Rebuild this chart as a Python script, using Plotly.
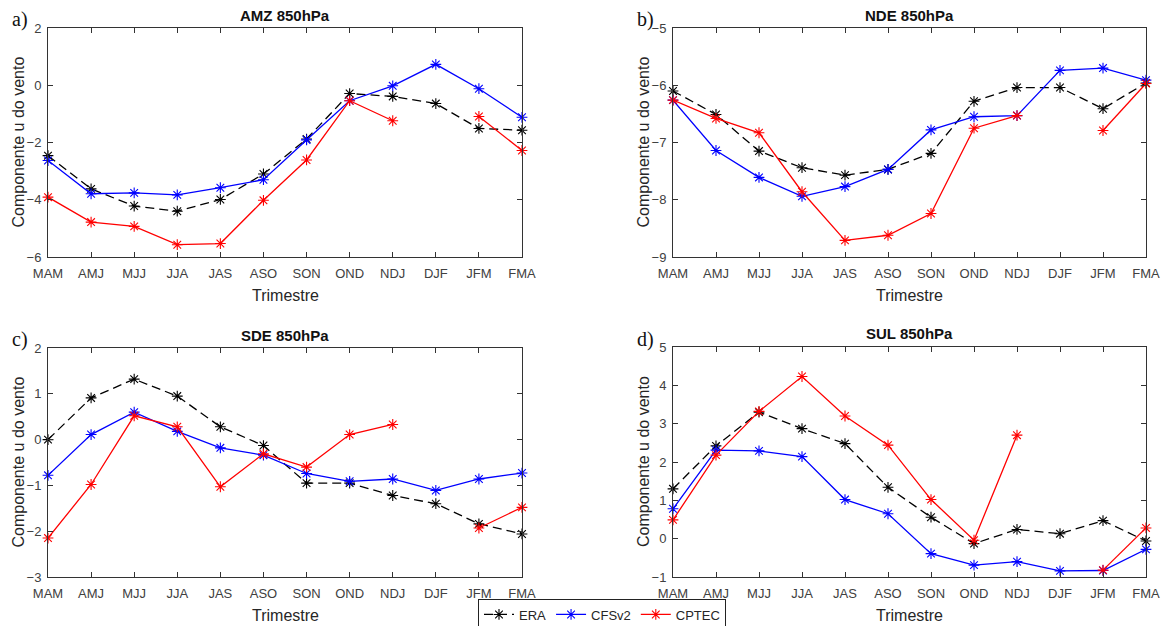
import plotly.graph_objects as go

months = ["MAM", "AMJ", "MJJ", "JJA", "JAS", "ASO", "SON", "OND", "NDJ", "DJF", "JFM", "FMA"]

# Panel a) AMZ 850hPa
amz_era = [-2.46, -3.62, -4.22, -4.40, -3.99, -3.10, -1.88, -0.29, -0.39, -0.64, -1.51, -1.57]
amz_cfs = [-2.63, -3.79, -3.76, -3.83, -3.58, -3.30, -1.91, -0.54, -0.02, 0.73, -0.12, -1.12]
amz_cptec = [-3.91, -4.78, -4.93, -5.57, -5.53, -4.02, -2.61, -0.54, -1.24, None, -1.09, -2.28]

# Panel b) NDE 850hPa
nde_era = [-6.10, -6.51, -7.15, -7.44, -7.57, -7.47, -7.19, -6.28, -6.04, -6.04, -6.41, -5.96]
nde_cfs = [-6.26, -7.14, -7.61, -7.94, -7.77, -7.47, -6.78, -6.55, -6.53, -5.74, -5.70, -5.91]
nde_cptec = [-6.26, -6.58, -6.83, -7.86, -8.71, -8.62, -8.24, -6.75, -6.53, None, -6.79, -5.97]

# Panel c) SDE 850hPa
sde_era = [0.0, 0.91, 1.32, 0.95, 0.28, -0.13, -0.95, -0.95, -1.22, -1.40, -1.84, -2.06]
sde_cfs = [-0.78, 0.11, 0.60, 0.18, -0.18, -0.34, -0.74, -0.91, -0.86, -1.11, -0.86, -0.73]
sde_cptec = [-2.15, -0.98, 0.52, 0.28, -1.03, -0.31, -0.60, 0.11, 0.33, None, -1.93, -1.48]

# Panel d) SUL 850hPa
sul_era = [1.30, 2.42, 3.30, 2.87, 2.48, 1.34, 0.56, -0.13, 0.24, 0.13, 0.47, -0.06]
sul_cfs = [0.78, 2.31, 2.29, 2.14, 1.02, 0.65, -0.39, -0.69, -0.60, -0.84, -0.83, -0.28]
sul_cptec = [0.49, 2.18, 3.32, 4.23, 3.20, 2.44, 1.02, -0.04, 2.70, None, -0.82, 0.28]

titles = ["AMZ 850hPa", "NDE 850hPa", "SDE 850hPa", "SUL 850hPa"]
letters = ["a)", "b)", "c)", "d)"]
series_names = ["ERA", "CFSv2", "CPTEC"]
panels = [
    (amz_era, amz_cfs, amz_cptec),
    (nde_era, nde_cfs, nde_cptec),
    (sde_era, sde_cfs, sde_cptec),
    (sul_era, sul_cfs, sul_cptec),
]
yranges = [(-6, 2, 2), (-9, -5, 1), (-3, 2, 1), (-1, 5, 1)]

OFF = 8  # page body margin
W, H = 1170 - OFF, 626 - OFF
# plot-area pixel boxes in screen coords (left, right, top, bottom)
boxes = [(48, 522, 28, 257), (673, 1146, 28, 257), (48, 522, 348, 577), (673, 1146, 347, 577)]


def px(xs):
    return (xs - OFF) / W


def py(ys):
    return 1 - (ys - OFF) / H


colors = ["#000000", "#0000ff", "#ff0000"]
dashes = ["9px,5px", "solid", "solid"]

fig = go.Figure()
axcol = "#333333"
txtcol = "#404040"
annotations = []
for i, (data, box) in enumerate(zip(panels, boxes)):
    xa = "x" if i == 0 else f"x{i+1}"
    ya = "y" if i == 0 else f"y{i+1}"
    for j, vals in enumerate(data):
        fig.add_trace(go.Scatter(
            x=months, y=vals, xaxis=xa, yaxis=ya,
            mode="lines+markers", name=series_names[j],
            showlegend=(i == 0),
            line=dict(color=colors[j], width=1.3, dash=dashes[j]),
            marker=dict(symbol="asterisk-open", size=9, color=colors[j],
                        line=dict(color=colors[j], width=1.1)),
            cliponaxis=False,
        ))
    l, r, t, b = box
    lo, hi, dt = yranges[i]
    xkey = "xaxis" if i == 0 else f"xaxis{i+1}"
    ykey = "yaxis" if i == 0 else f"yaxis{i+1}"
    fig.update_layout({
        xkey: dict(domain=[px(l), px(r)], anchor=ya, type="category",
                   categoryorder="array", categoryarray=months, automargin=False,
                   range=[0, 11], showline=True, mirror="ticks",
                   linecolor=axcol, linewidth=1, ticks="inside", ticklen=5,
                   tickcolor=axcol, showgrid=False, zeroline=False, ticklabelstandoff=4,
                   tickfont=dict(family="Liberation Sans, Arial", size=13, color=txtcol)),
        ykey: dict(domain=[py(b), py(t)], anchor=xa, automargin=False,
                   range=[lo, hi], dtick=dt, tick0=lo, showline=True, mirror="ticks",
                   linecolor=axcol, linewidth=1, ticks="inside", ticklen=5,
                   tickcolor=axcol, showgrid=False, zeroline=False, ticklabelstandoff=3,
                   tickfont=dict(family="Liberation Sans, Arial", size=13, color=txtcol)),
    })
    annotations.append(dict(text="<b>" + titles[i] + "</b>", x=px((l + r) / 2), y=py(t - 13),
                            xref="paper", yref="paper", showarrow=False,
                            xanchor="center", yanchor="middle",
                            font=dict(family="Liberation Sans, Arial", size=15, color="#111111")))
    annotations.append(dict(text=letters[i], x=px(l - 38), y=py(t - 8),
                            xref="paper", yref="paper", showarrow=False,
                            xanchor="left", yanchor="middle",
                            font=dict(family="Liberation Serif, Times New Roman", size=20, color="#111111")))
    annotations.append(dict(text="Componente u do vento", x=px(l - 30), y=py((t + b) / 2),
                            xref="paper", yref="paper", showarrow=False, textangle=-90,
                            xanchor="center", yanchor="middle",
                            font=dict(family="Liberation Sans, Arial", size=16, color="#262626")))
    annotations.append(dict(text="Trimestre", x=px((l + r) / 2), y=py(b + 38),
                            xref="paper", yref="paper", showarrow=False,
                            xanchor="center", yanchor="middle",
                            font=dict(family="Liberation Sans, Arial", size=16, color="#262626")))

fig.update_layout(
    width=W, height=H,
    margin=dict(l=0, r=0, t=0, b=0, autoexpand=False),
    paper_bgcolor="white", plot_bgcolor="white",
    annotations=annotations,
    legend=dict(orientation="h", x=px(602), xanchor="center", y=py(614.5), yanchor="middle",
                bordercolor="#222222", borderwidth=1, bgcolor="white",
                itemwidth=30, tracegroupgap=0,
                font=dict(family="Liberation Sans, Arial", size=13, color="#262626")),
)

fig.write_html("out.html")
